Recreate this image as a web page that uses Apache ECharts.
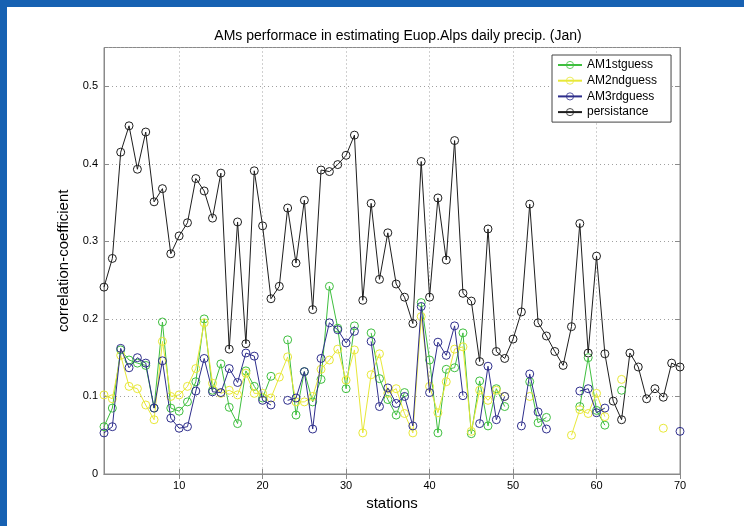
<!DOCTYPE html>
<html>
<head>
<meta charset="utf-8">
<script src="https://cdn.jsdelivr.net/npm/echarts@6/dist/echarts.min.js"></script>
<style>
  html, body { margin: 0; padding: 0; background: #fff; }
  #chart { position: absolute; left: 0; top: 0; width: 744px; height: 526px; }
  .strip { position: absolute; background: #1761b2; }
</style>
</head>
<body>
<div id="chart"></div>
<div class="strip" style="left:0;top:0;width:744px;height:7px"></div>
<div class="strip" style="left:0;top:0;width:7px;height:526px"></div>
<script>
// stations 1..70
const stations = Array.from({ length: 70 }, (_, i) => String(i + 1));

const am1 = [
  0.061, 0.085, 0.160, 0.147, 0.143, 0.140, 0.085, 0.196, 0.085, 0.081,
  0.093, 0.119, 0.200, 0.108, 0.142, 0.086, 0.065, 0.133, 0.113, 0.098,
  0.126, null, 0.173, 0.076, 0.132, 0.093, 0.122, 0.242, 0.188, 0.110,
  0.191, null, 0.182, 0.123, 0.096, 0.076, 0.105, null, 0.221, 0.147,
  0.053, 0.135, 0.137, 0.182, 0.052, 0.120, 0.062, 0.110, 0.087, null,
  null, 0.119, 0.066, 0.073, null, null, null, 0.087, 0.150, 0.082,
  0.063, null, 0.108, null, null, null, null, null, null, null
];
const am2 = [
  0.102, 0.097, 0.153, 0.113, 0.110, 0.089, 0.070, 0.171, 0.100, 0.102,
  0.113, 0.136, 0.195, 0.117, 0.104, 0.108, 0.102, 0.130, 0.104, 0.104,
  0.098, 0.125, 0.151, 0.093, 0.093, 0.100, 0.135, 0.147, 0.161, 0.121,
  0.160, 0.053, 0.128, 0.155, 0.104, 0.110, 0.078, 0.053, 0.203, 0.113,
  0.079, 0.119, 0.161, 0.164, 0.055, 0.108, 0.095, 0.108, 0.100, null,
  null, 0.100, null, null, null, null, 0.050, 0.083, 0.078, 0.104,
  0.074, null, 0.122, null, null, null, null, 0.059, null, null
];
const am3 = [
  0.053, 0.061, 0.162, 0.137, 0.150, 0.143, 0.085, 0.146, 0.072, 0.059,
  0.061, 0.107, 0.149, 0.106, 0.105, 0.136, 0.118, 0.156, 0.152, 0.095,
  0.089, null, 0.095, 0.098, 0.132, 0.058, 0.149, 0.195, 0.186, 0.169,
  0.184, null, 0.171, 0.087, 0.111, 0.091, 0.100, 0.062, 0.216, 0.105,
  0.170, 0.153, 0.191, 0.101, null, 0.065, 0.139, 0.070, 0.100, null,
  0.062, 0.129, 0.080, 0.058, null, null, null, 0.107, 0.110, 0.079,
  0.085, null, null, null, null, null, null, null, null, 0.055
];
const persistance = [
  0.241, 0.278, 0.415, 0.449, 0.393, 0.441, 0.351, 0.368, 0.284, 0.307,
  0.324, 0.381, 0.365, 0.330, 0.388, 0.161, 0.325, 0.168, 0.391, 0.320,
  0.226, 0.242, 0.343, 0.272, 0.353, 0.212, 0.392, 0.390, 0.399, 0.411,
  0.437, 0.224, 0.349, 0.251, 0.311, 0.245, 0.228, 0.194, 0.403, 0.228,
  0.356, 0.276, 0.430, 0.233, 0.223, 0.145, 0.316, 0.158, 0.149, 0.174,
  0.209, 0.348, 0.195, 0.178, 0.158, 0.140, 0.190, 0.323, 0.156, 0.281,
  0.155, 0.094, 0.070, 0.156, 0.138, 0.097, 0.110, 0.099, 0.143, 0.138
];

const seriesNames = ['AM1stguess', 'AM2ndguess', 'AM3rdguess', 'persistance'];
const seriesColors = ['#3fbf3f', '#e8e838', '#2e2e8c', '#1e1e1e'];
const seriesData = [am1, am2, am3, persistance];

const font = 'Liberation Sans, Arial, Helvetica, sans-serif';
const tenth = (idx, v) => Number(v) % 10 === 0;

const chart = echarts.init(document.getElementById('chart'));
chart.setOption({
  animation: false,
  backgroundColor: '#fff',
  textStyle: { fontFamily: font },
  title: {
    text: 'AMs performace in estimating Euop.Alps daily precip. (Jan)',
    left: 393,
    textAlign: 'center',
    top: 24,
    textStyle: { fontSize: 14, fontWeight: 'normal', color: '#000', fontFamily: font }
  },
  legend: {
    orient: 'vertical',
    left: 552,
    top: 55,
    data: seriesNames,
    itemWidth: 24,
    itemHeight: 9,
    itemGap: 3.7,
    itemStyle: { borderWidth: 0.8 },
    padding: [4, 14, 4, 5],
    backgroundColor: '#fff',
    borderColor: '#444',
    borderWidth: 1,
    borderRadius: 0,
    textStyle: { fontSize: 12, color: '#000', fontFamily: font }
  },
  grid: {
    left: 104, right: 64, top: 47.5, bottom: 52,
    show: true, borderColor: '#8a8a8a', borderWidth: 1
  },
  xAxis: [{
    type: 'category',
    data: stations,
    boundaryGap: false,
    name: 'stations',
    nameLocation: 'middle',
    nameGap: 16,
    nameTextStyle: { fontSize: 15, color: '#000', fontFamily: font },
    axisLine: { lineStyle: { color: '#8a8a8a' } },
    axisTick: { inside: true, length: 5, interval: tenth, lineStyle: { color: '#8a8a8a' } },
    axisLabel: { interval: tenth, fontSize: 11, color: '#000', margin: 6 },
    splitLine: { show: true, interval: tenth, lineStyle: { color: '#a0a0a0', type: [1, 3] } }
  }, {
    type: 'category',
    data: stations,
    boundaryGap: false,
    position: 'top',
    axisLine: { lineStyle: { color: '#8a8a8a' } },
    axisTick: { inside: true, length: 5, interval: tenth, lineStyle: { color: '#8a8a8a' } },
    axisLabel: { show: false },
    splitLine: { show: false }
  }],
  yAxis: [{
    type: 'value',
    min: 0, max: 0.55, interval: 0.1,
    name: 'correlation-coefficient',
    nameLocation: 'middle',
    nameGap: 28,
    nameTextStyle: { fontSize: 15, color: '#000', fontFamily: font },
    axisLine: { show: true, lineStyle: { color: '#8a8a8a' } },
    axisTick: { show: true, inside: true, length: 5, lineStyle: { color: '#8a8a8a' } },
    axisLabel: {
      fontSize: 11, color: '#000', margin: 6, showMaxLabel: false,
      formatter: v => (Math.abs(v * 10 - Math.round(v * 10)) < 1e-6 ? String(Math.round(v * 10) / 10) : '')
    },
    splitLine: { show: true, lineStyle: { color: '#a0a0a0', type: [1, 3] } }
  }, {
    type: 'value',
    min: 0, max: 0.55, interval: 0.1,
    position: 'right',
    axisLine: { show: true, lineStyle: { color: '#8a8a8a' } },
    axisTick: { show: true, inside: true, length: 5, lineStyle: { color: '#8a8a8a' } },
    axisLabel: { show: false },
    splitLine: { show: false }
  }],
  series: seriesNames.map((name, i) => ({
    name: name,
    type: 'line',
    data: seriesData[i],
    connectNulls: false,
    symbol: 'circle',
    symbolSize: 8,
    showAllSymbol: true,
    lineStyle: { color: seriesColors[i], width: 1 },
    itemStyle: { color: 'rgba(255,255,255,0)', borderColor: seriesColors[i], borderWidth: 1 },
    emphasis: { disabled: true },
    z: 2 + (i === 3 ? 0 : i)
  }))
});
</script>
</body>
</html>
